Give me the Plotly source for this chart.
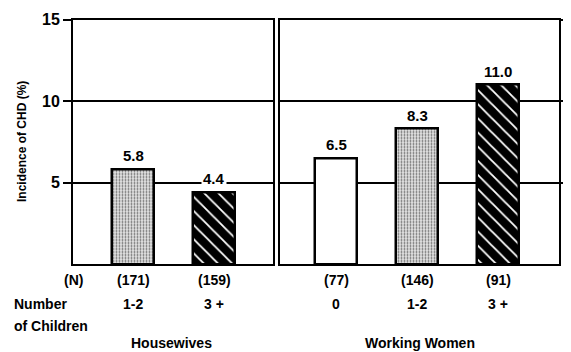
import plotly.graph_objects as go

# Data
hw_children = ["1-2", "3+"]
hw_n = ["(171)", "(159)"]
hw_values = [5.8, 4.4]

ww_children = ["0", "1-2", "3+"]
ww_n = ["(77)", "(146)", "(91)"]
ww_values = [6.5, 8.3, 11.0]

y_ticks = [5, 10, 15]
panel_titles = ["Housewives", "Working Women"]

FONT = "Liberation Sans, Arial, sans-serif"
FS = 14

styles = {
    "0": dict(color="white", pattern=dict(shape="")),
    "1-2": dict(color="white", pattern=dict(shape=".", fgcolor="#666666", bgcolor="#e4e4e4", size=3, solidity=0.3, fillmode="replace")),
    "3+": dict(color="black", pattern=dict(shape="\\", fgcolor="white", bgcolor="black", size=10, solidity=0.18, fillmode="replace")),
}

fig = go.Figure()

def add_panel(children, values, xref, yref):
    xs = list(range(1, len(children) + 1))
    for x, c, v in zip(xs, children, values):
        st = styles[c]
        fig.add_trace(go.Bar(
            x=[x], y=[v], width=0.52, xaxis=xref, yaxis=yref,
            marker=dict(color=st["color"], pattern=st["pattern"],
                        line=dict(color="black", width=2.5)),
            showlegend=False, hoverinfo="skip"))
    return xs

xs_hw = add_panel(hw_children, hw_values, "x", "y")
xs_ww = add_panel(ww_children, ww_values, "x2", "y2")

H = 352.0
W = 571.0
OX, OY = 8.0, 8.0  # page body offset

def px(x):
    return (x - OX) / W

def py(y):
    return (H - (y - OY)) / H

def bold(size=FS):
    return dict(size=size, family=FONT, color="black", weight="bold")

annos = []
def label_panel(xs, children, ns, values, xr, yr):
    for x, c, n, v in zip(xs, children, ns, values):
        annos.append(dict(x=x, y=v, xref=xr, yref=yr, text=f"{v:.1f}", showarrow=False,
                          xanchor="center", yanchor="bottom", yshift=3, bgcolor="white",
                          borderpad=1, font=bold(15)))
        annos.append(dict(x=x, y=py(280), xref=xr, yref="paper", text=n, showarrow=False,
                          xanchor="center", yanchor="middle", font=bold()))
        annos.append(dict(x=x, y=py(304), xref=xr, yref="paper", text=c.replace("+", " +"),
                          showarrow=False, xanchor="center", yanchor="middle", font=bold()))

label_panel(xs_hw, hw_children, hw_n, hw_values, "x", "y")
label_panel(xs_ww, ww_children, ww_n, ww_values, "x2", "y2")

def pa(text, x, y, xanchor="center"):
    annos.append(dict(x=px(x), y=py(y), xref="paper", yref="paper", text=text,
                      showarrow=False, xanchor=xanchor, yanchor="middle", font=bold()))

pa("(N)", 73, 280)
pa("Number", 12, 304, "left")
pa("of Children", 12, 326, "left")
pa(panel_titles[0], 172, 343)
pa(panel_titles[1], 420, 343)

annos.append(dict(x=px(22), y=py(142), xref="paper", yref="paper",
                  text="Incidence of CHD (%)", textangle=-90, showarrow=False,
                  xanchor="center", yanchor="middle", font=bold(12)))

ydom = [py(264), py(19.5)]
axis_common = dict(zeroline=False, showline=True, linecolor="black",
                   linewidth=2, mirror=True, automargin=False)

fig.update_layout(
    width=571, height=352, margin=dict(l=0, r=0, t=0, b=0, autoexpand=False),
    plot_bgcolor="white", paper_bgcolor="white", bargap=0,
    font=dict(family=FONT, size=FS, color="black"),
    xaxis=dict(domain=[px(73), px(273)], range=[1 - 60 / 81, 1 + 140 / 81],
               showticklabels=False, ticks="", showgrid=False, **axis_common),
    xaxis2=dict(domain=[px(280), px(559)], range=[1 - 56 / 81, 1 + 223 / 81],
                showticklabels=False, ticks="", showgrid=False, **axis_common),
    yaxis=dict(domain=ydom, range=[0, 15], tickvals=y_ticks, ticktext=[str(t) for t in y_ticks],
               ticks="outside", ticklen=8, tickwidth=2, tickcolor="black",
               showgrid=True, gridcolor="black", gridwidth=1.5,
               tickfont=bold(16), anchor="x", **axis_common),
    yaxis2=dict(domain=ydom, range=[0, 15], tickvals=y_ticks, side="right",
                ticks="outside", ticklen=8, tickwidth=2, tickcolor="black",
                showticklabels=False, showgrid=True, gridcolor="black", gridwidth=1.5,
                anchor="x2", **axis_common),
    annotations=annos,
)

fig.write_html("out.html")
